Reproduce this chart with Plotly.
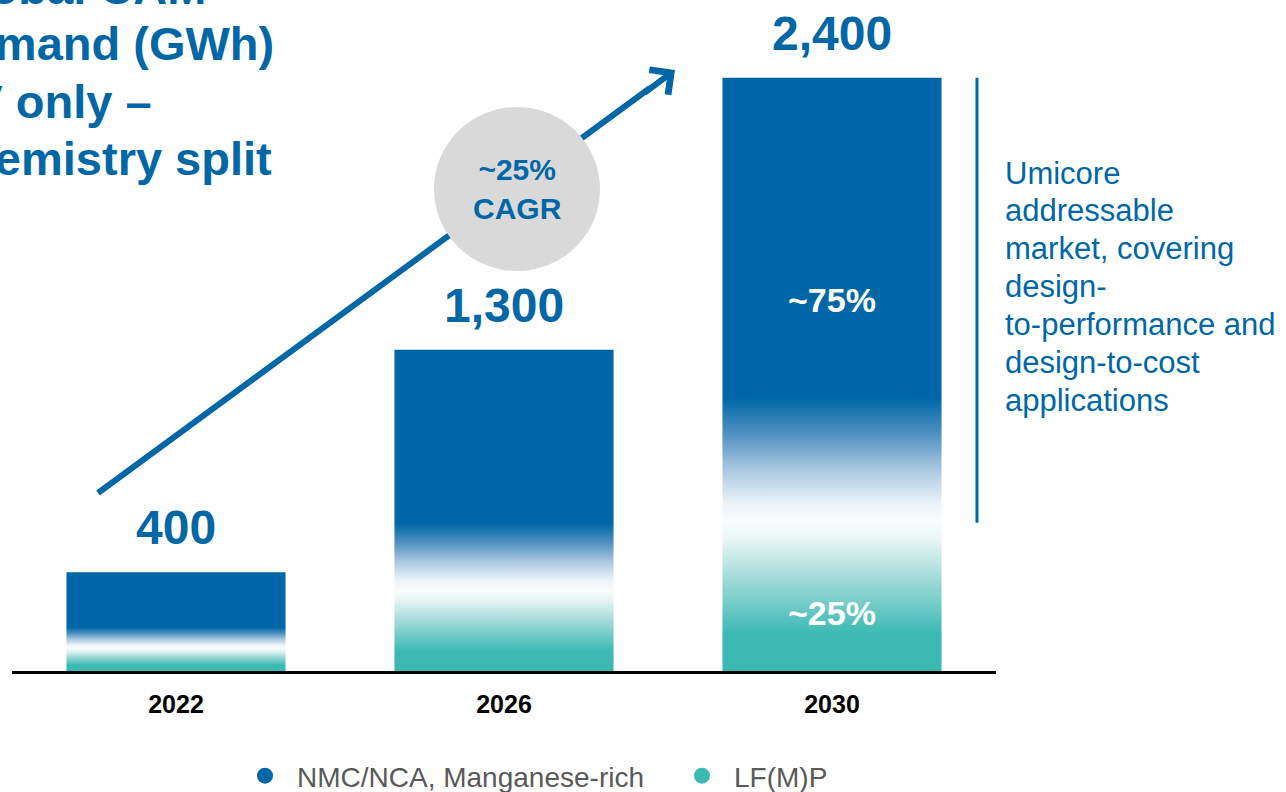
import plotly.graph_objects as go

# ---- data -------------------------------------------------------------
years = ["2022", "2026", "2030"]
demand_gwh = [400, 1300, 2400]          # total CAM demand, GWh
lfp_share = [0.23, 0.25, 0.25]          # LF(M)P share of each year's demand
series_names = ["NMC/NCA, Manganese-rich", "LF(M)P"]

title_lines = ["Global CAM", "demand (GWh)", "EV only –", "chemistry split"]
note_lines = ["Umicore", "addressable", "market, covering", "design-",
              "to-performance and", "design-to-cost", "applications"]

# ---- styling ----------------------------------------------------------
BLUE = "#0067A7"
TEAL = "#3DB9B4"
GREY_TXT = "#595959"
FONT = "Liberation Sans, Arial, sans-serif"
NARROW = "Liberation Sans Narrow, Arial Narrow, Liberation Sans, sans-serif"

W, H = 1286, 792
M_L, M_R, M_T, M_B = 12, 290, 0, 121
PLOT_W, PLOT_H = W - M_L - M_R, H - M_T - M_B
Y_MAX = 2715
BAR_W = 0.668


def px_x(px):
    """Horizontal pixel -> paper fraction of the plot area."""
    return (px - M_L) / PLOT_W


def px_y(py):
    """Vertical pixel (from top) -> paper fraction of the plot area."""
    return (M_T + PLOT_H - py) / PLOT_H


def bar_scale(f):
    """Vertical colour ramp: teal at the base, white at the split, blue above."""
    return [
        [0.0, TEAL],
        [f * 0.25, TEAL],
        [f * 0.6, "#9BD8D5"],
        [f * 0.88, "#E6F5F4"],
        [f, "#FAFCFD"],
        [f + 0.03, "#EEF4F9"],
        [f + 0.09, "#AAC8E0"],
        [f + 0.15, "#4F90C0"],
        [f + 0.21, BLUE],
        [1.0, BLUE],
    ]


fig = go.Figure()

# bars as filled polygons so each can carry a vertical colour gradient
for i, (yr, v, f) in enumerate(zip(years, demand_gwh, lfp_share)):
    x0, x1 = i - BAR_W / 2, i + BAR_W / 2
    fig.add_trace(go.Scatter(
        x=[x0, x1, x1, x0, x0], y=[0, 0, v, v, 0],
        mode="lines", fill="toself",
        line=dict(width=0, color="rgba(0,0,0,0)"),
        fillgradient=dict(type="vertical", colorscale=bar_scale(f), start=0, stop=v),
        showlegend=False, hoverinfo="text",
        text=f"{yr}: {v:,} GWh", name=yr,
    ))

# legend entries
for name, col in zip(series_names, [BLUE, TEAL]):
    fig.add_trace(go.Scatter(
        x=[None], y=[None], mode="markers", name=name,
        marker=dict(color=col, size=20, symbol="circle"),
    ))

annotations = []

# total value labels above the bars
for i, v in enumerate(demand_gwh):
    annotations.append(dict(
        x=i, y=v, xref="x", yref="y", text=f"{v:,}", showarrow=False,
        yanchor="bottom", yshift=16,
        font=dict(family=FONT, size=48, color=BLUE, weight="bold"),
    ))

# share labels inside the latest bar
last = len(demand_gwh) - 1
v, f = demand_gwh[last], lfp_share[last]
annotations.append(dict(
    x=last, y=v * (f + (1 - f) / 2), xref="x", yref="y",
    text=f"~{round((1 - f) * 100)}%", showarrow=False,
    font=dict(family=FONT, size=34, color="white", weight="bold"),
))
annotations.append(dict(
    x=last, y=v * f / 2, xref="x", yref="y", yshift=-16,
    text=f"~{round(f * 100)}%", showarrow=False,
    font=dict(family=FONT, size=34, color="white", weight="bold"),
))

# growth rate in the grey disc
n_years = int(years[-1]) - int(years[0])
cagr = (demand_gwh[-1] / demand_gwh[0]) ** (1 / n_years) - 1
cx0, cx1, cy0, cy1 = px_x(434), px_x(600), px_y(271), px_y(107)
annotations.append(dict(
    x=(cx0 + cx1) / 2, y=(cy0 + cy1) / 2, xref="paper", yref="paper",
    xanchor="center", yanchor="middle",
    text=f"~{cagr * 100:.0f}%<br>CAGR", showarrow=False,
    font=dict(family=FONT, size=30, color=BLUE, weight="bold"),
))

# arrow head
tip_x, tip_y = px_x(675), px_y(70)
annotations.append(dict(
    x=tip_x, y=tip_y, xref="paper", yref="paper", text="",
    showarrow=True, ax=-32, ay=24, arrowhead=4, arrowsize=1,
    arrowwidth=6, arrowcolor=BLUE, standoff=0,
))

# title (runs off the top-left edge)
for line, base in zip(title_lines, [3, 60, 117, 174]):
    annotations.append(dict(
        x=px_x(-62), y=px_y(base - 16), xref="paper", yref="paper",
        xanchor="left", yanchor="middle", text=line, showarrow=False,
        font=dict(family=FONT, size=47, color=BLUE, weight="bold"),
    ))

# side note
for line, cy in zip(note_lines, [173, 210, 248, 286, 324, 363, 401]):
    annotations.append(dict(
        x=px_x(1003), y=px_y(cy), xref="paper", yref="paper",
        xanchor="left", yanchor="middle", text=line, showarrow=False,
        font=dict(family=FONT, size=31, color=BLUE),
    ))

shapes = [
    # arrow shaft
    dict(type="line", xref="paper", yref="paper",
         x0=px_x(98), y0=px_y(493), x1=px_x(650), y1=px_y(88),
         line=dict(color=BLUE, width=6), layer="above"),
    # grey disc over the shaft
    dict(type="circle", xref="paper", yref="paper",
         x0=cx0, x1=cx1, y0=cy0, y1=cy1,
         fillcolor="#D9D9D9", line=dict(width=0), layer="above"),
    # bracket for the addressable share of the latest bar
    dict(type="line", xref="x", yref="y",
         x0=2.442, x1=2.442, y0=v * f, y1=v,
         line=dict(color=BLUE, width=3), layer="above"),
]

fig.update_layout(
    width=W, height=H,
    margin=dict(l=M_L, r=M_R, t=M_T, b=M_B, autoexpand=False),
    paper_bgcolor="white", plot_bgcolor="white",
    annotations=annotations, shapes=shapes,
    showlegend=True,
    legend=dict(
        orientation="h", xref="container", yref="container",
        x=233 / W, y=1 - 751 / H, xanchor="left", yanchor="top",
        font=dict(family=FONT, size=28, color=GREY_TXT),
        itemwidth=54, entrywidth=368, entrywidthmode="pixels",
        bgcolor="rgba(0,0,0,0)", itemclick=False,
    ),
    xaxis=dict(
        range=[-0.5, 2.5], tickvals=list(range(len(years))), ticktext=years,
        showgrid=False, zeroline=False, showline=True, linecolor="black",
        linewidth=3, ticks="", ticklabelstandoff=9,
        tickfont=dict(family=NARROW, size=25, color="black", weight="bold"),
        fixedrange=True,
    ),
    yaxis=dict(
        range=[0, Y_MAX], visible=False, showgrid=False, zeroline=False,
        fixedrange=True,
    ),
)

fig.write_html("out.html")
